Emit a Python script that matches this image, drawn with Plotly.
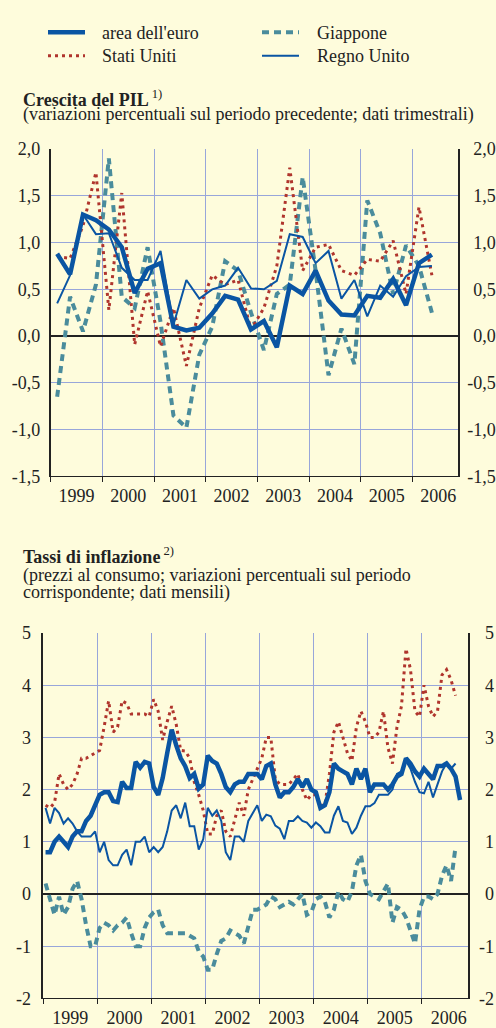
import plotly.graph_objects as go
import pandas as pd

# ---------------- data ----------------
quarters = pd.period_range("1999Q1", "2006Q2", freq="Q")
months_euro = pd.period_range("1999-01", "2006-09", freq="M")
months_other = pd.period_range("1999-01", "2006-08", freq="M")
years = list(range(1999, 2007))
year_labels = [str(y) for y in years]

gdp_ticks = [-1.5, -1.0, -0.5, 0.0, 0.5, 1.0, 1.5, 2.0]
gdp_tick_labels = ["-1,5", "-1,0", "-0,5", "0,0", "0,5", "1,0", "1,5", "2,0"]
inf_ticks = [-2, -1, 0, 1, 2, 3, 4, 5]
inf_tick_labels = ["-2", "-1", "0", "1", "2", "3", "4", "5"]

# GDP growth, quarter on quarter (%)
gdp_euro = [0.88, 0.66, 1.30, 1.24, 1.14, 0.95, 0.46, 0.72, 0.78, 0.10,
            0.06, 0.09, 0.24, 0.43, 0.39, 0.07, 0.16, -0.12, 0.54, 0.45,
            0.70, 0.38, 0.23, 0.22, 0.43, 0.41, 0.61, 0.33, 0.78, 0.87]
gdp_us = [0.85, 0.83, 1.18, 1.75, 0.28, 1.53, -0.09, 0.48, -0.11, 0.30,
          -0.32, 0.30, 0.65, 0.55, 0.60, 0.07, 0.30, 0.75, 1.80, 0.70,
          0.95, 0.98, 0.70, 0.65, 0.82, 0.80, 1.02, 0.45, 1.38, 0.65]
gdp_jp = [-0.65, 0.42, 0.05, 0.55, 1.90, 0.42, 0.30, 0.95, 0.15, -0.85,
          -0.98, -0.20, 0.10, 0.80, 0.70, 0.25, -0.15, 0.45, 0.55, 1.70,
          0.70, -0.42, 0.08, -0.30, 1.45, 1.10, 0.45, 0.97, 0.75, 0.25]
gdp_uk = [0.35, 0.65, 1.30, 1.09, 1.10, 0.73, 0.60, 0.60, 0.91, 0.12,
          0.60, 0.40, 0.50, 0.54, 0.73, 0.51, 0.50, 0.59, 1.09, 1.06,
          0.78, 0.91, 0.40, 0.60, 0.21, 0.54, 0.42, 0.64, 0.74, 0.75]

# Consumer price inflation, year on year (%), monthly
inf_euro = [0.8, 0.8, 1.0, 1.1, 1.0, 0.9, 1.1, 1.2, 1.2, 1.4, 1.5, 1.7,
            1.9, 1.95, 1.95, 1.78, 1.76, 2.15, 2.03, 2.03, 2.53, 2.42, 2.53, 2.5,
            2.05, 1.9, 2.22, 2.7, 3.15, 2.85, 2.6, 2.45, 2.22, 2.3, 2.02, 2.1,
            2.65, 2.55, 2.5, 2.3, 2.05, 1.95, 2.1, 2.15, 2.15, 2.3, 2.3, 2.3,
            2.2, 2.45, 2.5, 2.1, 1.85, 1.95, 1.95, 2.05, 2.2, 2.05, 2.2, 2.0,
            1.95, 1.65, 1.7, 1.95, 2.5, 2.4, 2.35, 2.3, 2.1, 2.4, 2.2, 2.4,
            1.95, 2.1, 2.1, 2.1, 2.0, 2.1, 2.25, 2.3, 2.6, 2.5, 2.35, 2.25,
            2.4, 2.3, 2.2, 2.45, 2.45, 2.5, 2.4, 2.25, 1.8]
inf_us = [1.7, 1.65, 1.75, 2.3, 2.1, 2.0, 2.1, 2.3, 2.6, 2.6, 2.65, 2.7,
          2.75, 3.2, 3.7, 3.1, 3.2, 3.7, 3.65, 3.45, 3.45, 3.45, 3.45, 3.4,
          3.73, 3.5, 2.95, 3.3, 3.6, 3.25, 2.75, 2.74, 2.6, 2.15, 1.9, 1.6,
          1.15, 1.15, 1.5, 1.6, 1.2, 1.1, 1.45, 1.75, 1.5, 2.0, 2.2, 2.4,
          2.6, 3.0, 3.0, 2.2, 2.1, 2.1, 2.1, 2.2, 2.3, 2.0, 1.8, 1.9,
          1.9, 1.7, 1.7, 2.3, 3.1, 3.3, 3.0, 2.7, 2.55, 3.2, 3.5, 3.3,
          3.0, 3.0, 3.1, 3.5, 2.8, 2.5, 3.2, 3.6, 4.7, 4.3, 3.5, 3.4,
          4.0, 3.6, 3.4, 3.5, 4.2, 4.3, 4.1, 3.8]
inf_jp = [0.2, -0.1, -0.4, -0.05, -0.4, -0.25, 0.1, 0.25, -0.1, -0.6, -1.0, -1.0,
          -0.65, -0.55, -0.6, -0.7, -0.6, -0.55, -0.45, -0.75, -1.0, -1.0, -0.65, -0.45,
          -0.35, -0.3, -0.6, -0.75, -0.75, -0.75, -0.75, -0.75, -0.8, -0.85, -1.1, -1.2,
          -1.45, -1.45, -1.15, -0.9, -0.85, -0.7, -0.75, -0.8, -0.95, -0.6, -0.3, -0.3,
          -0.25, -0.2, -0.05, -0.1, -0.25, -0.2, -0.15, -0.2, -0.1, 0.0, -0.4, -0.35,
          -0.1, -0.05, -0.15, -0.45, -0.3, 0.05, -0.1, -0.15, 0.05, 0.55, 0.75, 0.25,
          0.0, -0.05, -0.1, 0.05, 0.2, -0.55, -0.25, -0.3, -0.45, -0.7, -0.95, -0.3,
          -0.05, -0.05, -0.1, 0.0, 0.35, 0.55, 0.25, 0.9]
inf_uk = [1.65, 1.35, 1.65, 1.55, 1.35, 1.45, 1.35, 1.2, 1.1, 1.1, 1.1, 1.2,
          0.8, 1.0, 0.65, 0.55, 0.55, 0.75, 0.85, 0.55, 1.0, 1.0, 1.1, 0.8,
          0.9, 0.8, 0.9, 1.2, 1.6, 1.7, 1.45, 1.75, 1.3, 1.3, 0.85, 1.05,
          1.65, 1.5, 1.6, 1.4, 0.8, 0.65, 1.1, 1.1, 1.0, 1.4, 1.55, 1.7,
          1.4, 1.52, 1.49, 1.31, 1.25, 1.05, 1.4, 1.4, 1.49, 1.4, 1.37, 1.27,
          1.37, 1.3, 1.18, 1.18, 1.5, 1.68, 1.4, 1.37, 1.15, 1.27, 1.5, 1.68,
          1.68, 1.74, 1.9, 1.9, 1.9, 2.0, 2.3, 2.35, 2.55, 2.4, 2.15, 1.95,
          1.93, 2.15, 1.85, 2.1, 2.35, 2.5, 2.4, 2.5]

legend_names = ["area dell'euro", "Stati Uniti", "Giappone", "Regno Unito"]

# ---------------- style ----------------
BG = "#FEFCDC"
GRID = "#98A6DA"
BLUE = "#0A55A3"
RED = "#B0352D"
TEAL = "#4A8C9C"
AXIS = "#222222"
TXT = "#222222"
FONT = "Liberation Serif"
W, H = 496, 1028

def qx(p):
    return p.year + (p.quarter - 0.5) / 4

def mx(p):
    return p.year + (p.month - 0.5) / 12

xq = [qx(p) for p in quarters]
xm_e = [mx(p) for p in months_euro]
xm_o = [mx(p) for p in months_other]

styles = {
    "jp": dict(color=TEAL, width=4, dash="7px,5px"),
    "us": dict(color=RED, width=3, dash="3px,4px"),
    "uk": dict(color=BLUE, width=2),
    "euro": dict(color=BLUE, width=4.5),
}

fig = go.Figure()

def add(x, y, key, xa, ya):
    fig.add_trace(go.Scatter(x=x, y=y, mode="lines", line=styles[key],
                             xaxis=xa, yaxis=ya, showlegend=False,
                             hoverinfo="skip"))

# top chart
add(xq, gdp_jp, "jp", "x", "y")
add(xq, gdp_us, "us", "x", "y")
add(xq, gdp_uk, "uk", "x", "y")
add(xq, gdp_euro, "euro", "x", "y")
# bottom chart
add(xm_o, inf_jp, "jp", "x2", "y2")
add(xm_o, inf_us, "us", "x2", "y2")
add(xm_o, inf_uk, "uk", "x2", "y2")
add(xm_e, inf_euro, "euro", "x2", "y2")
# carriers for the right-hand axes
fig.add_trace(go.Scatter(x=[None], y=[None], xaxis="x", yaxis="y3",
                         showlegend=False, hoverinfo="skip"))
fig.add_trace(go.Scatter(x=[None], y=[None], xaxis="x2", yaxis="y4",
                         showlegend=False, hoverinfo="skip"))

def px_x(v):
    return v / W

def px_y(v):
    return 1 - v / H

tickfont = dict(family=FONT, size=18, color=TXT)

def right_labels(labels):
    # pad non-negative labels by a hyphen-wide space so they align right
    return [t if t.startswith("-") else "\u2004" + t for t in labels]

def xaxis(dom, anchor, rng):
    return dict(domain=dom, anchor=anchor, range=rng,
                tickmode="array", tickvals=[y + 0.5 for y in years],
                ticktext=year_labels, ticks="", showgrid=False,
                zeroline=False, showline=True, linecolor=AXIS, linewidth=1,
                tickfont=tickfont, ticklabelstandoff=3,
                minor=dict(tickmode="linear", tick0=1999, dtick=1,
                           showgrid=True, gridcolor=GRID, gridwidth=1,
                           ticks="outside", ticklen=5, tickcolor=AXIS,
                           tickwidth=1))

def yaxis(dom, anchor, rng, tv, tt, standoff):
    return dict(domain=dom, anchor=anchor, range=rng,
                tickmode="array", tickvals=tv, ticktext=tt, ticks="",
                showgrid=True, gridcolor=GRID, gridwidth=1,
                zeroline=True, zerolinecolor=AXIS, zerolinewidth=1.5,
                showline=True, linecolor=AXIS, linewidth=1.5,
                tickfont=tickfont, ticklabelstandoff=standoff)

def yaxis_r(over, anchor, rng, tv, tt, standoff):
    return dict(overlaying=over, anchor=anchor, side="right", range=rng,
                tickmode="array", tickvals=tv, ticktext=right_labels(tt),
                ticks="", showgrid=False, zeroline=False,
                showline=True, linecolor=AXIS, linewidth=1.5,
                tickfont=tickfont, ticklabelstandoff=standoff)

top_x = [px_x(50.7), px_x(458)]
top_y = [px_y(476), px_y(142)]
bot_x = [px_x(43.3), px_x(467.7)]
bot_y = [px_y(1009), px_y(636)]

fig.update_layout(
    width=W, height=H,
    margin=dict(l=0, r=0, t=0, b=0),
    paper_bgcolor=BG, plot_bgcolor=BG,
    showlegend=False,
    xaxis=xaxis(top_x, "y", [1999.0, 2006.88]),
    yaxis=yaxis(top_y, "x", [-1.5, 2.0], gdp_ticks, gdp_tick_labels, 5),
    yaxis3=yaxis_r("y", "x", [-1.5, 2.0], gdp_ticks, gdp_tick_labels, 4),
    xaxis2=xaxis(bot_x, "y2", [1999.0, 2006.85]),
    yaxis2=yaxis(bot_y, "x2", [-2, 5], inf_ticks, inf_tick_labels, 7),
    yaxis4=yaxis_r("y2", "x2", [-2, 5], inf_ticks, inf_tick_labels, 6),
)

# ---------------- legend (drawn by hand, as in the original) ----------------
legend_items = [
    (legend_names[0], "euro", 48, 22.7, 100),
    (legend_names[2], "jp", 262, 22.7, 315),
    (legend_names[1], "us", 48, 46.7, 100),
    (legend_names[3], "uk", 262, 46.7, 315),
]
shapes = []
annotations = []
for name, key, x0, yy, tx in legend_items:
    st = dict(styles[key])
    shapes.append(dict(type="line", xref="paper", yref="paper",
                       x0=px_x(x0), x1=px_x(x0 + 37), y0=px_y(yy), y1=px_y(yy),
                       line=st))
    annotations.append(dict(text=name, xref="paper", yref="paper",
                            x=px_x(tx), y=px_y(yy + 0.5), xanchor="left",
                            yanchor="middle", showarrow=False,
                            font=dict(family=FONT, size=18, color=TXT)))

def label(text, x, y, size=18):
    annotations.append(dict(text=text, xref="paper", yref="paper",
                            x=px_x(x), y=px_y(y), xanchor="left",
                            yanchor="middle", showarrow=False,
                            font=dict(family=FONT, size=size, color=TXT)))

label("<b>Crescita del PIL</b><sup> 1)</sup>", 21, 90)
label("(variazioni percentuali sul periodo precedente; dati trimestrali)", 21, 107)
label("<b>Tassi di inflazione</b><sup> 2)</sup>", 21, 557)
label("(prezzi al consumo; variazioni percentuali sul periodo", 21, 577)
label("corrispondente; dati mensili)", 21, 595)

fig.update_layout(shapes=shapes, annotations=annotations)

fig.write_html("out.html", config={"displayModeBar": False},
               post_script="document.body.style.margin='0';")
